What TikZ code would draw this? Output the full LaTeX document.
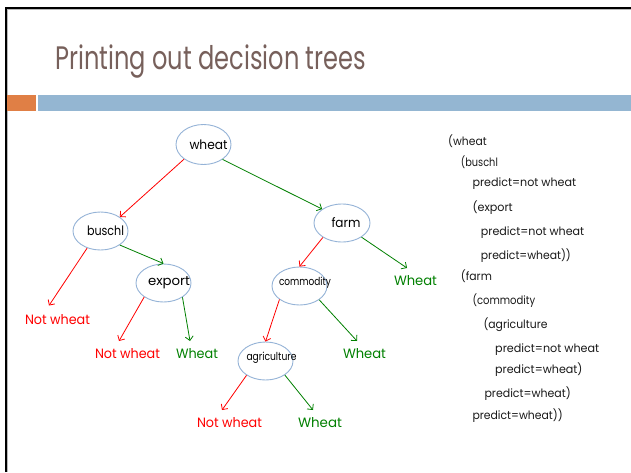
\documentclass[tikz,border=0pt]{standalone}
\usepackage{fontspec}
\setmainfont{Poppins}
\usetikzlibrary{shapes.geometric,arrows.meta,calc}
\definecolor{titlec}{HTML}{77605B}
\definecolor{ellc}{HTML}{95B3D7}
\definecolor{barorange}{HTML}{E07F45}
\definecolor{barblue}{HTML}{94B6D2}
\definecolor{leafgreen}{RGB}{0,128,0}
\definecolor{codec}{HTML}{1A1A1A}
\newcommand\fw[2]{\resizebox{#1pt}{\height}{#2}}
\newcommand\nt[3]{\makebox[0pt]{\hspace*{#1pt}\fw{#2}{#3}}}
\tikzset{
  tnode/.style={ellipse, draw=ellc, line width=0.9pt, fill=white, inner sep=0pt,
    minimum width=55pt, minimum height=38pt, font=\fontsize{13}{15}\selectfont},
  snode/.style={tnode, font=\fontsize{11}{13}\selectfont},
  leaf/.style={inner sep=0pt, outer sep=0pt, anchor=west, font=\fontsize{13.5}{15}\selectfont},
  redleaf/.style={leaf, text=red},
  greenleaf/.style={leaf, text=leafgreen},
  redarr/.style={draw=red, line width=0.8pt, -{Straight Barb[length=4pt,width=8pt]}},
  greenarr/.style={draw=leafgreen, line width=0.8pt, -{Straight Barb[length=4pt,width=8pt]}},
  code/.style={anchor=base west, inner sep=0pt, text=codec, font=\fontsize{11.5}{13}\selectfont}
}
\begin{document}
\begin{tikzpicture}[x=1pt,y=-1pt]
\useasboundingbox (0,0) rectangle (631,472);
\fill[white] (0,0) rectangle (631,472);
% frame
\draw[gray!55, line width=1pt] (7.3,472) -- (7.3,9.7) -- (631,9.7);
\draw[black, line width=2pt] (5.5,472) -- (5.5,7.5) -- (631,7.5);
% bars
\fill[barorange] (7,95) rectangle (35.5,111);
\fill[barblue] (38,95) rectangle (631,111);
% title
\node[anchor=base west, inner sep=0pt, text=titlec, font=\fontsize{32.5}{36}\selectfont] (title) at (55,69) {\fw{311}{Printing out decision trees}};
% tree nodes
\node[tnode, minimum height=40pt] (wheat) at (203.5,144.5) {\nt{10}{38}{wheat}};
\node[tnode] (buschl) at (100.5,231) {\nt{10}{37}{buschl}};
\node[tnode] (export) at (163.5,283) {\nt{11}{42}{export}};
\node[tnode, minimum width=56pt] (farm) at (342,223) {\nt{8}{29}{farm}};
\node[snode] (commodity) at (299.5,286) {\raisebox{1pt}[0pt][0pt]{\nt{11}{52}{commodity}}};
\node[snode] (agriculture) at (265.5,361) {\raisebox{0.5pt}[0pt][0pt]{\nt{12}{50}{agriculture}}};
% leaves
\node[redleaf] (nw1) at (25,319.5) {\fw{65}{Not wheat}};
\node[redleaf] (nw2) at (95,354) {\fw{65}{Not wheat}};
\node[greenleaf] (w1) at (176,354) {\fw{42}{Wheat}};
\node[greenleaf] (w2) at (394,281) {\fw{43}{Wheat}};
\node[greenleaf] (w3) at (343,354) {\fw{43}{Wheat}};
\node[redleaf] (nw3) at (197,423) {\fw{65}{Not wheat}};
\node[greenleaf] (w4) at (298,423) {\fw{44}{Wheat}};
% connectors
\draw[redarr] (wheat.-143) -- (buschl.36);
\draw[greenarr] (wheat.-38) -- (farm.145);
\draw[redarr] (buschl.-128) -- ($(nw1.west)+(24,-14)$);
\draw[greenarr] (buschl.-36) -- (export.north);
\draw[redarr] (export.-144) -- ($(nw2.west)+(24,-13)$);
\draw[greenarr] (export.-37) -- ($(w1.west)+(14,-13)$);
\draw[redarr] (farm.-143) -- (commodity.north);
\draw[greenarr] (farm.-36) -- ($(w2.west)+(13,-13)$);
\draw[redarr] (commodity.-146) -- (agriculture.north);
\draw[greenarr] (commodity.-35) -- ($(w3.west)+(14,-13)$);
\draw[redarr] (agriculture.-143) -- ($(nw3.west)+(25,-13)$);
\draw[greenarr] (agriculture.-36) -- ($(w4.west)+(15,-13)$);
% printed tree
\node[code] (c1) at (448,145) {\fw{38.5}{(wheat}};
\node[code] (c2) at (460.7,166) {\fw{37}{(buschl}};
\node[code] (c3) at (472.3,186) {\fw{103.7}{predict=not wheat}};
\node[code] (c4) at (472.3,211) {\fw{40.3}{(export}};
\node[code] (c5) at (480.7,235) {\fw{103.3}{predict=not wheat}};
\node[code] (c6) at (480.7,259) {\fw{90}{predict=wheat))}};
\node[code] (c7) at (460.7,280) {\fw{31}{(farm}};
\node[code] (c8) at (472.3,304) {\fw{62.7}{(commodity}};
\node[code] (c9) at (483.3,328) {\fw{64}{(agriculture}};
\node[code] (c10) at (495,352) {\fw{104}{predict=not wheat}};
\node[code] (c11) at (495,373) {\fw{87.3}{predict=wheat)}};
\node[code] (c12) at (484.3,397) {\fw{86.3}{predict=wheat)}};
\node[code] (c13) at (472.3,419) {\fw{90.3}{predict=wheat))}};
\end{tikzpicture}
\end{document}
